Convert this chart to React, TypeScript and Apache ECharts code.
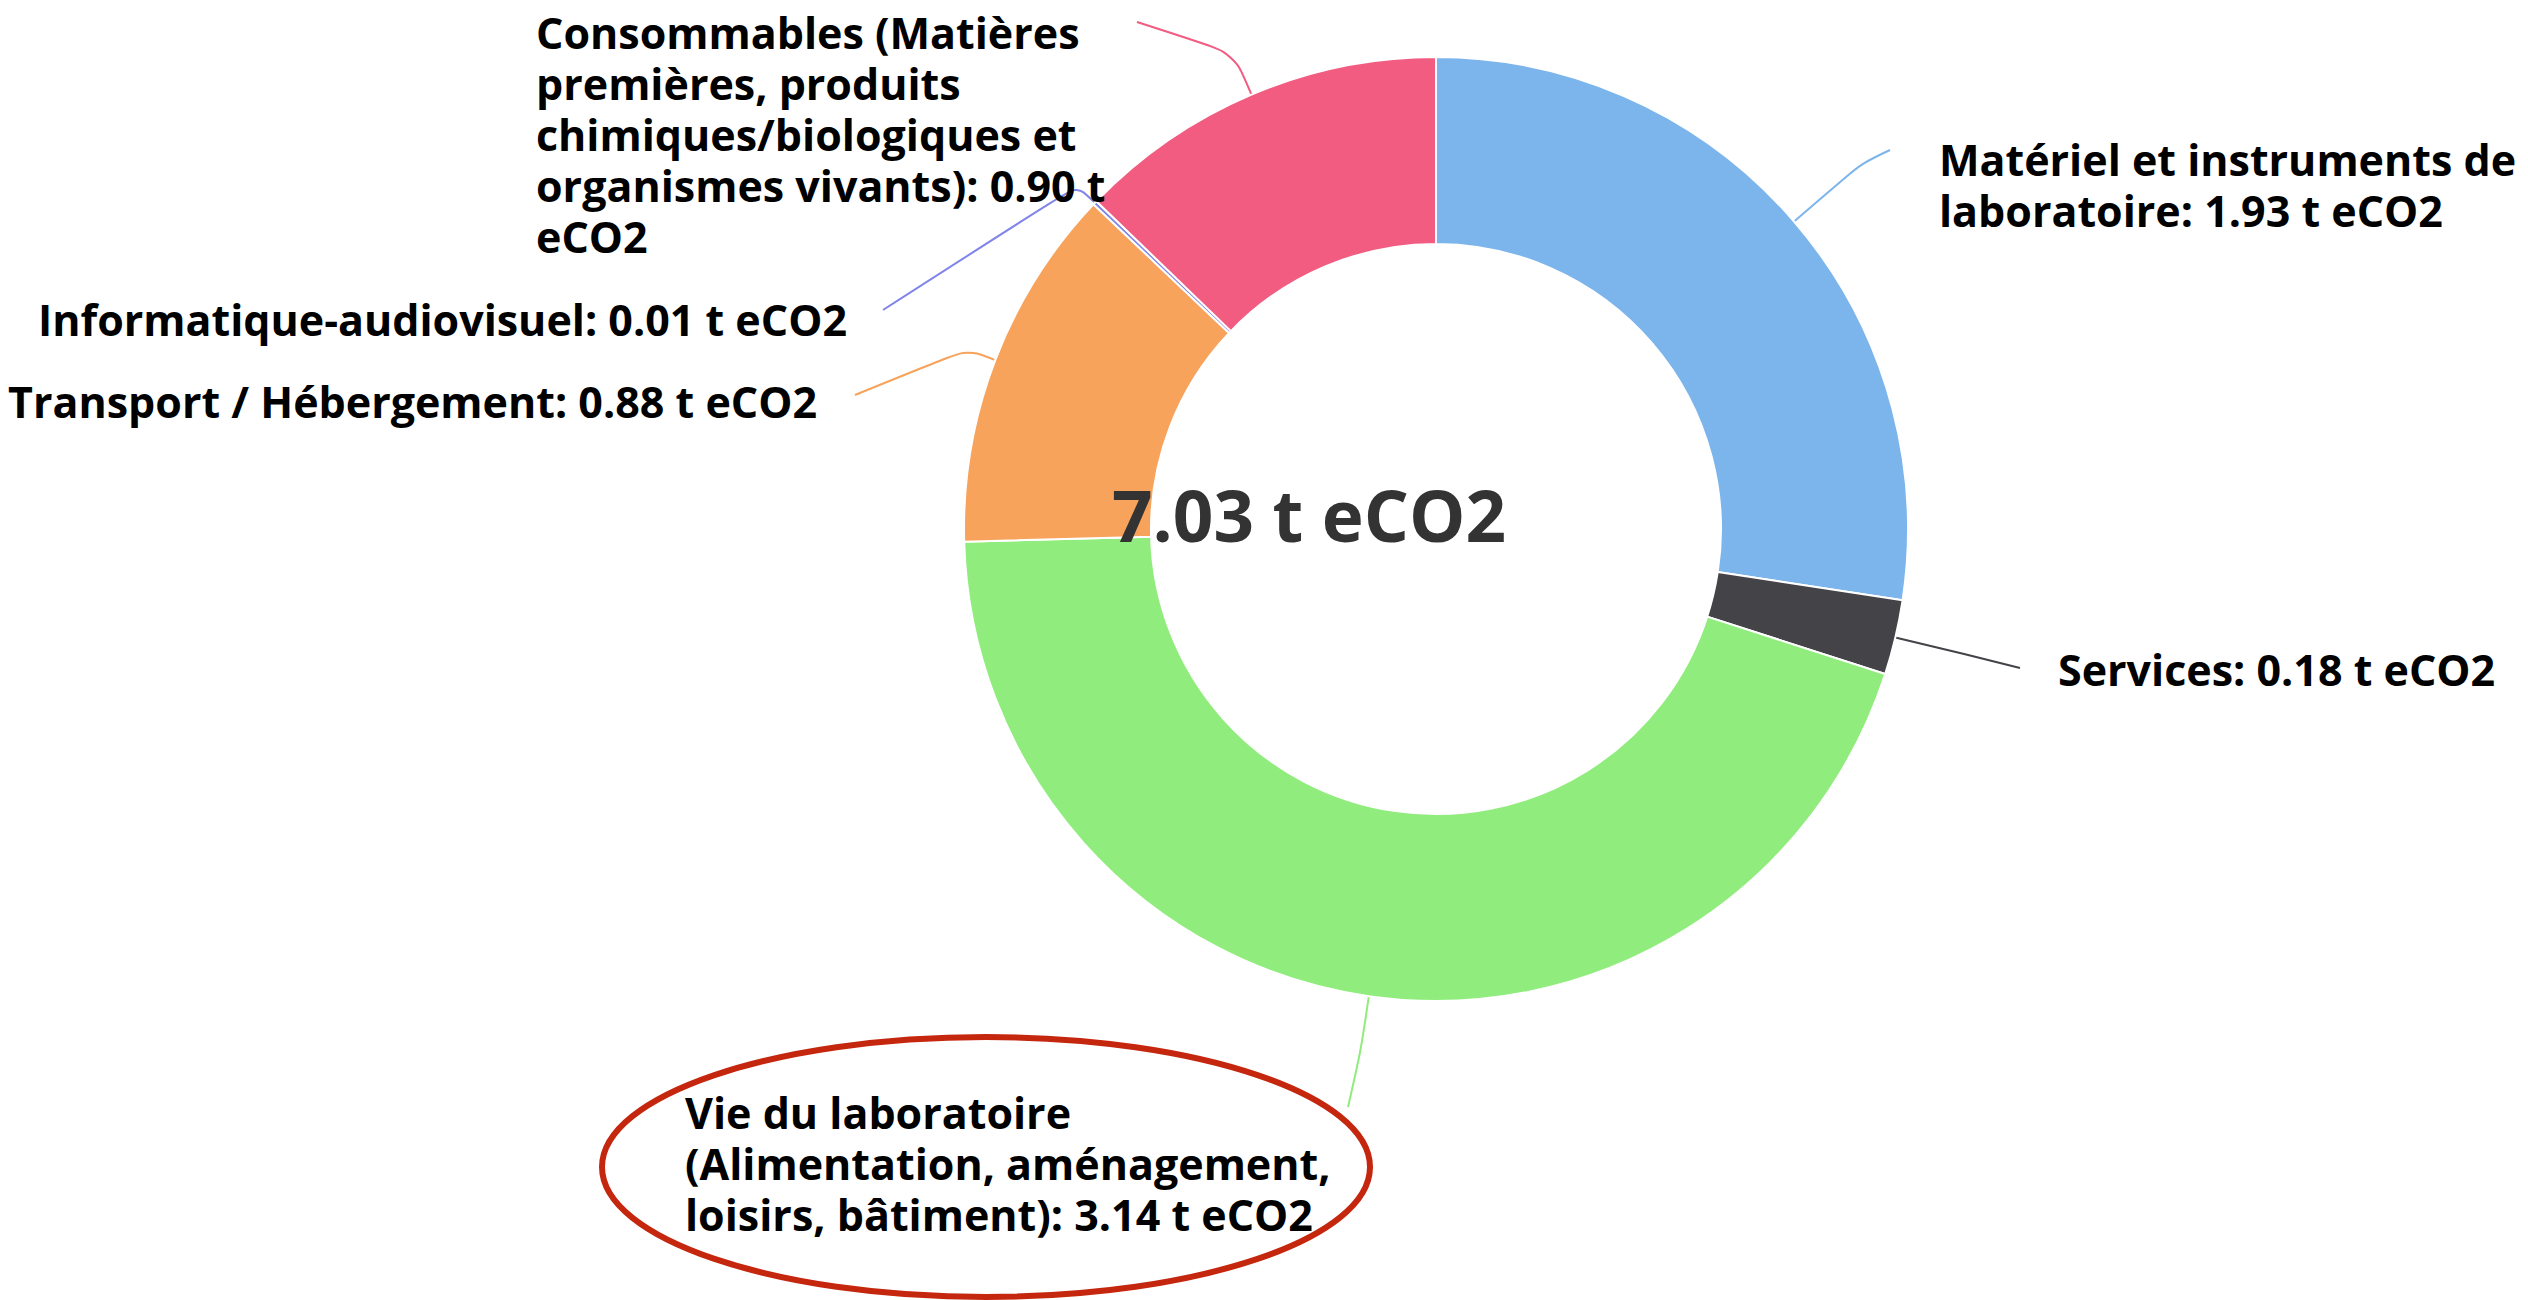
import React, { useEffect, useRef } from 'react';
import * as echarts from 'echarts';

// ---- data ----
const categories = [
  'Matériel et instruments de laboratoire',
  'Services',
  'Vie du laboratoire (Alimentation, aménagement, loisirs, bâtiment)',
  'Transport / Hébergement',
  'Informatique-audiovisuel',
  'Consommables (Matières premières, produits chimiques/biologiques et organismes vivants)',
];
const values = [1.93, 0.18, 3.14, 0.88, 0.01, 0.9];
const colors = ['#7cb5ec', '#434348', '#90ed7d', '#f7a35c', '#8085e9', '#f15c80'];
const totalValue = 7.03;
const unit = 't eCO2';

// ---- layout (not data) ----
const CENTER: [number, number] = [1436, 529];
const R_IN = 285;
const R_OUT = 472;
const FONT = "'Open Sans', 'Noto Sans', sans-serif";

// where each label wraps (word after which the line breaks)
const LABEL_LAYOUT = [
  { x: 1939, y: 185, align: 'left', breaks: ['instruments de'], bend: 90, end: [1890, 150] },
  { x: 2058, y: 669, align: 'left', breaks: [], bend: 60, end: [2020, 668] },
  { x: 685, y: 1163, align: 'left', breaks: ['du laboratoire', 'aménagement,'], bend: 55, end: [1348, 1107] },
  { x: 817, y: 401, align: 'right', breaks: [], bend: 30, end: [855, 395] },
  { x: 847, y: 319, align: 'right', breaks: [], bend: 25, end: [883, 310] },
  { x: 536, y: 134, align: 'left', breaks: ['(Matières', 'produits', 'biologiques et', '0.90 t'], bend: 45, end: [1137, 22] },
];

function wrapLabel(text: string, breaks: string[]) {
  let out = text;
  breaks.forEach((b) => {
    out = out.replace(b + ' ', b + '\n');
  });
  return out;
}

export default function App() {
  const ref = useRef<HTMLDivElement>(null);

  useEffect(() => {
    document.body.style.margin = '0';
    if (!ref.current) return;
    const chart = echarts.init(ref.current, undefined, { renderer: 'svg' });

    const data = categories.map((name, i) => ({
      name,
      value: values[i],
      itemStyle: { color: colors[i] },
      labelLine: { lineStyle: { color: colors[i] } },
    }));

    chart.setOption({
      animation: false,
      backgroundColor: '#ffffff',
      series: [
        {
          type: 'pie',
          center: CENTER,
          radius: [R_IN, R_OUT],
          startAngle: 90,
          clockwise: true,
          avoidLabelOverlap: false,
          itemStyle: { borderColor: '#ffffff', borderWidth: 2 },
          emphasis: { disabled: true },
          label: {
            show: true,
            position: 'outside',
            color: '#000000',
            fontFamily: FONT,
            fontWeight: 'bold',
            fontSize: 43,
            lineHeight: 51,
            formatter: (p: any) =>
              wrapLabel(`${p.name}: ${p.value.toFixed(2)} ${unit}`, LABEL_LAYOUT[p.dataIndex].breaks),
          },
          labelLine: {
            show: true,
            length: 20,
            length2: 20,
            smooth: 0.3,
            lineStyle: { width: 2 },
          },
          labelLayout: (params: any) => {
            const L = LABEL_LAYOUT[params.dataIndex];
            const pts = params.labelLinePoints;
            let linePts: any = undefined;
            if (pts && pts.length) {
              const p0 = pts[0];
              const dx = p0[0] - CENTER[0];
              const dy = p0[1] - CENTER[1];
              const len = Math.sqrt(dx * dx + dy * dy) || 1;
              const p1 = [p0[0] + (dx / len) * L.bend, p0[1] + (dy / len) * L.bend];
              linePts = [p0, p1, L.end];
            }
            return {
              x: L.x,
              y: L.y,
              align: L.align,
              verticalAlign: 'middle',
              labelLinePoints: linePts,
            };
          },
          data,
        },
      ],
      graphic: [
        {
          type: 'text',
          x: 1309,
          y: 514,
          style: {
            text: `${totalValue.toFixed(2)} ${unit}`,
            fill: '#333333',
            font: `bold 71px ${FONT}`,
            align: 'center',
            verticalAlign: 'middle',
          },
          z: 10,
        },
        {
          type: 'ellipse',
          shape: { cx: 986, cy: 1167, rx: 384, ry: 130 },
          style: { fill: 'none', stroke: '#c4260e', lineWidth: 6 },
          z: 10,
        },
      ],
    });

    return () => chart.dispose();
  }, []);

  return <div ref={ref} style={{ width: 2528, height: 1300 }} />;
}
